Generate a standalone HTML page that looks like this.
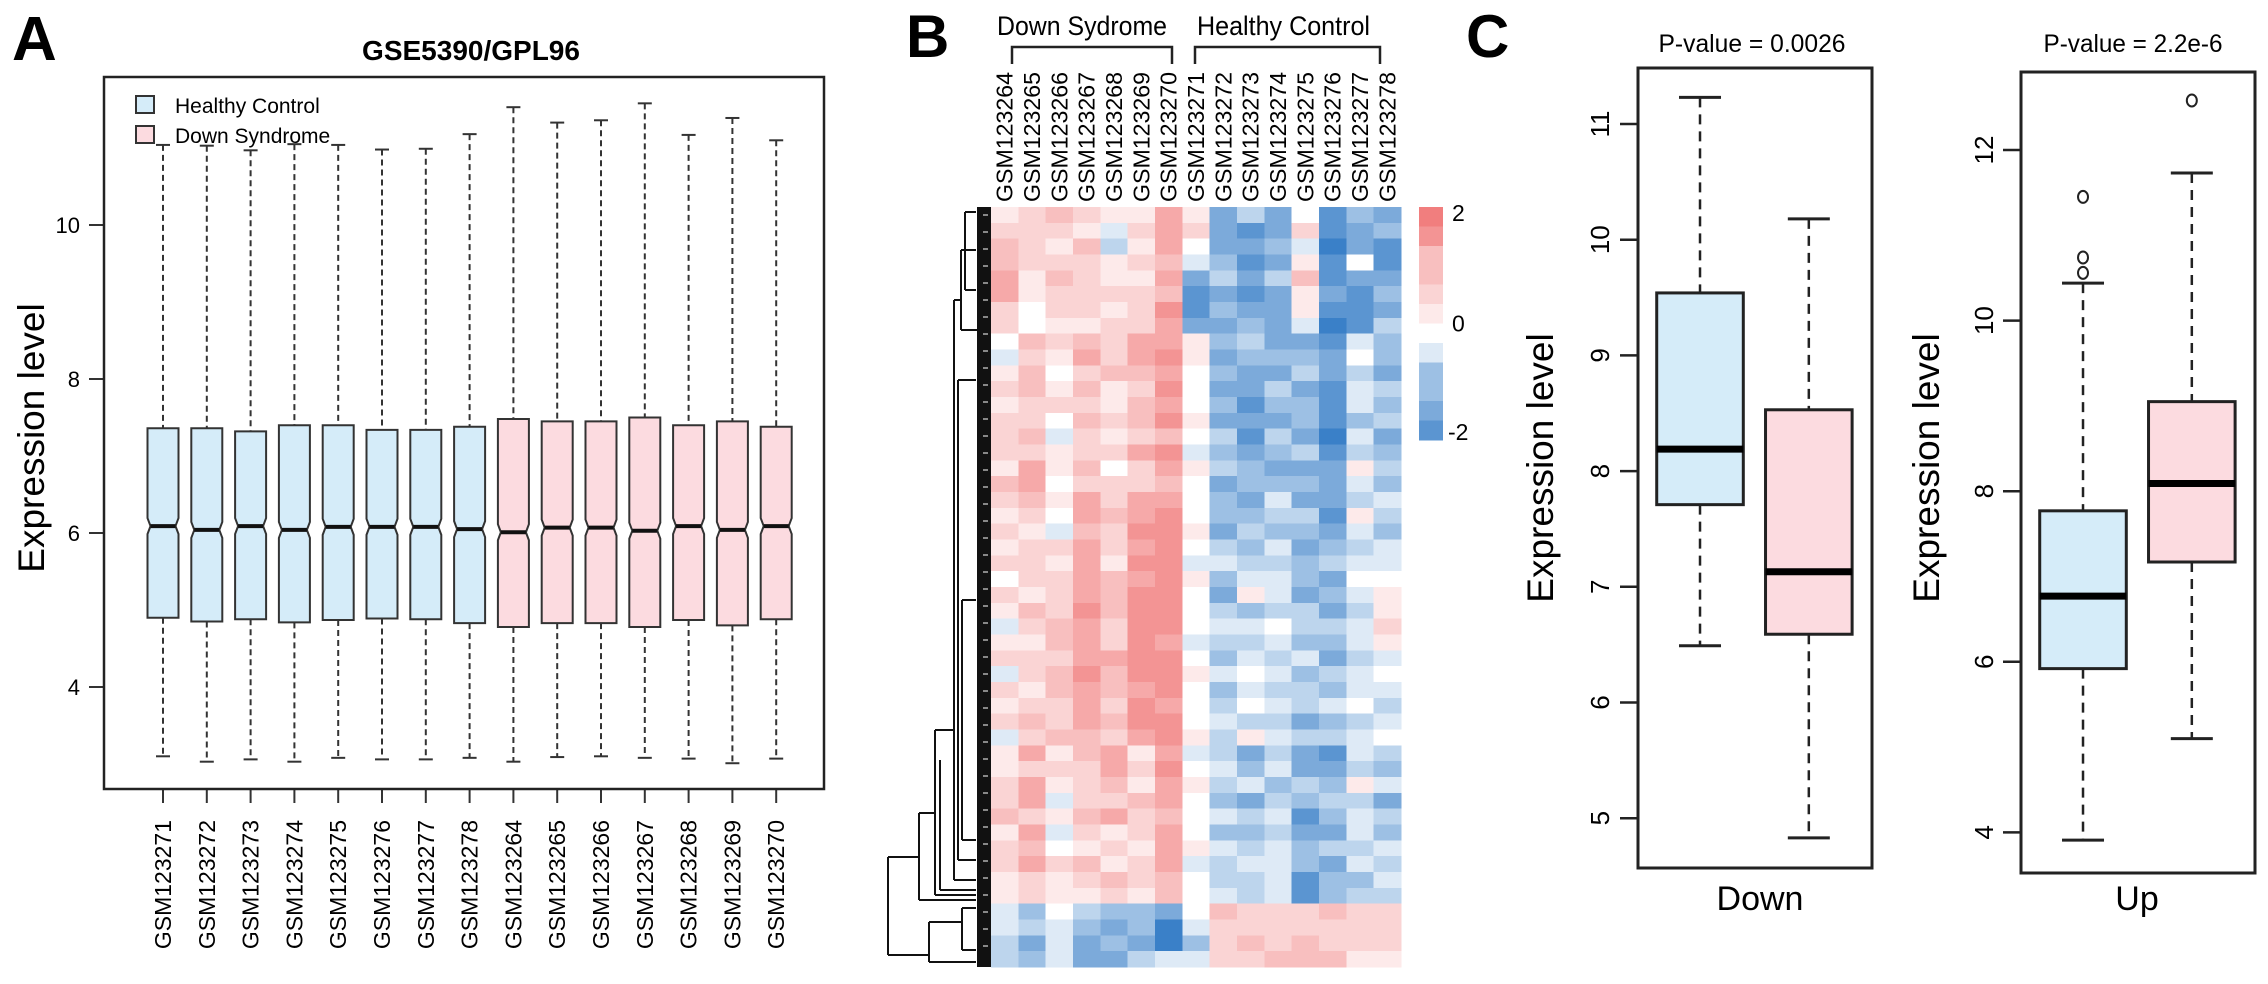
<!DOCTYPE html>
<html><head><meta charset="utf-8"><style>
html,body{margin:0;padding:0;background:#fff;}
svg{display:block;font-family:"Liberation Sans",Arial,sans-serif;}
.nar{font-family:"Liberation Sans Narrow","Liberation Sans",sans-serif;}
</style></head><body>
<svg id="fig" width="2268" height="984" viewBox="0 0 2268 984" xmlns="http://www.w3.org/2000/svg">
<rect width="2268" height="984" fill="#fff"/>
<text x="12" y="60" font-size="62" font-weight="bold">A</text>
<text x="906" y="57" font-size="60" font-weight="bold">B</text>
<text x="1466" y="57" font-size="60" font-weight="bold">C</text>
<g id="pa"></g>
<g id="pb"></g>
<g id="pc"></g>
</svg>
<script>
// ---------- Panel A data ----------
const aSamples = ["GSM123271","GSM123272","GSM123273","GSM123274","GSM123275","GSM123276","GSM123277","GSM123278","GSM123264","GSM123265","GSM123266","GSM123267","GSM123268","GSM123269","GSM123270"];
const aGroup = ["HC","HC","HC","HC","HC","HC","HC","HC","DS","DS","DS","DS","DS","DS","DS"];
const aTop = [11.04,11.03,10.97,11.05,11.04,10.98,10.99,11.18,11.53,11.33,11.36,11.58,11.17,11.39,11.10];
const aQ3 = [7.36,7.36,7.32,7.40,7.40,7.34,7.34,7.38,7.48,7.45,7.45,7.50,7.40,7.45,7.38];
const aMed = [6.09,6.04,6.09,6.04,6.08,6.08,6.08,6.05,6.01,6.07,6.07,6.03,6.09,6.04,6.09];
const aQ1 = [4.90,4.85,4.88,4.84,4.87,4.89,4.88,4.83,4.78,4.83,4.83,4.78,4.87,4.80,4.88];
const aBot = [3.10,3.03,3.06,3.03,3.08,3.06,3.06,3.08,3.03,3.09,3.10,3.08,3.07,3.01,3.07];
const aTicks = [4,6,8,10];

// ---------- Panel B data ----------
const bCols = ["GSM123264","GSM123265","GSM123266","GSM123267","GSM123268","GSM123269","GSM123270","GSM123271","GSM123272","GSM123273","GSM123274","GSM123275","GSM123276","GSM123277","GSM123278"];
const bRows = [
[0.4,0.5,0.9,0.7,0.2,0.4,1.2,0.2,-1.3,-0.8,-1.2,0.1,-1.8,-0.9,-1.4],
[0.6,0.8,0.5,0.3,-0.3,0.6,1.4,0.5,-1.2,-1.6,-1.4,0.6,-1.7,-1.3,-1.1],
[0.9,0.7,0.4,0.9,-0.6,0.2,1.3,0.0,-1.4,-1.5,-0.9,-0.3,-1.9,-1.5,-1.6],
[1.1,0.5,0.8,0.6,0.3,0.7,1.0,-0.4,-1.0,-1.8,-1.3,0.2,-1.6,0.0,-1.8],
[1.3,0.2,1.0,0.5,0.2,0.4,1.3,-1.2,-0.6,-1.4,-0.7,1.1,-1.8,-1.4,-1.3],
[1.4,0.3,0.7,0.8,0.5,0.6,1.1,-1.6,-1.3,-1.6,-1.2,0.4,-1.5,-1.7,-1.0],
[0.7,-0.1,0.5,0.6,0.4,0.8,1.5,-1.8,-1.1,-1.2,-1.5,0.3,-1.6,-1.8,-1.2],
[0.5,0.1,0.3,0.4,0.6,0.5,1.2,-1.5,-1.4,-0.9,-1.3,-0.2,-1.9,-1.6,-0.8],
[0.1,0.9,0.6,1.0,0.7,1.2,1.3,0.2,-1.1,-0.6,-1.4,-1.2,-1.6,-0.5,-0.9],
[-0.2,0.7,0.3,1.2,0.5,1.3,1.6,0.4,-1.3,-1.0,-1.0,-1.1,-1.3,0.1,-1.0],
[0.4,0.9,0.0,0.8,0.9,1.1,1.4,0.1,-0.9,-1.5,-1.2,-0.6,-1.5,-0.7,-1.2],
[0.6,1.0,0.2,0.9,0.4,0.8,1.5,-0.1,-1.2,-1.3,-0.8,-1.4,-1.7,-0.4,-0.8],
[0.3,0.6,0.5,0.7,0.2,1.0,1.2,0.0,-1.0,-1.6,-1.1,-1.0,-1.8,-0.2,-1.1],
[0.8,0.7,0.1,1.1,0.6,0.9,1.5,0.3,-1.4,-1.2,-1.3,-0.9,-1.6,-0.9,-0.7],
[0.5,1.1,-0.3,0.8,0.3,0.7,1.1,0.0,-0.8,-1.7,-0.6,-1.2,-1.9,-0.3,-1.3],
[0.7,0.8,0.2,0.6,0.8,1.2,1.6,-0.2,-1.1,-1.4,-1.0,-0.7,-1.7,-0.6,-0.9],
[0.4,1.3,0.4,0.9,0.1,0.6,1.3,0.2,-0.7,-1.1,-1.4,-1.3,-1.5,0.3,-0.6],
[0.9,1.2,0.0,0.7,0.5,0.8,1.1,0.1,-1.2,-0.9,-0.9,-1.0,-1.4,-0.5,-1.0],
[0.6,0.9,0.3,1.2,0.7,1.3,1.4,-0.1,-1.0,-1.3,-0.5,-1.5,-1.2,-0.8,-0.4],
[0.3,0.6,0.1,1.3,0.9,1.4,1.6,0.0,-0.9,-1.1,-0.8,-0.8,-1.6,0.2,-0.7],
[0.8,0.4,-0.4,1.0,0.6,1.5,1.5,0.3,-1.2,-0.7,-1.1,-1.1,-1.3,-0.3,-0.9],
[0.2,0.7,0.5,1.4,0.8,1.3,1.6,0.1,-0.8,-1.0,-0.3,-1.2,-1.1,-0.6,-0.2],
[0.5,0.5,0.2,1.3,0.4,1.5,1.5,-0.2,-0.5,-0.8,-0.7,-0.9,-0.8,-0.3,-0.5],
[-0.1,0.8,0.7,1.4,1.0,1.4,1.6,0.2,-1.0,-0.4,-0.5,-1.0,-1.2,0.0,-0.1],
[0.6,0.4,0.8,1.2,0.9,1.5,1.5,0.0,-1.2,0.2,-0.4,-1.3,-0.9,-0.4,0.3],
[0.3,0.9,0.6,1.5,1.1,1.6,1.6,-0.1,-0.6,-0.9,-0.6,-0.6,-1.3,-0.8,0.4],
[-0.4,0.6,0.9,1.3,0.7,1.5,1.5,0.1,-0.4,-0.3,0.1,-0.8,-0.6,-0.5,0.5],
[0.4,0.2,1.0,1.4,0.8,1.6,1.4,-0.2,-0.8,-0.6,-0.5,-1.0,-1.1,-0.2,0.2],
[0.7,0.5,0.7,1.2,1.2,1.5,1.6,0.0,-1.1,-0.4,-0.7,-0.5,-1.4,-0.6,-0.3],
[-0.3,0.8,1.1,1.5,0.9,1.6,1.5,0.2,-0.5,-0.1,-0.4,-0.9,-0.7,-0.3,0.0],
[0.5,0.3,0.9,1.3,1.0,1.4,1.6,-0.1,-0.9,-0.5,-0.8,-0.6,-1.0,-0.5,-0.4],
[0.2,0.6,0.8,1.4,0.7,1.6,1.4,0.1,-0.7,0.1,-0.3,-0.7,-0.5,-0.1,-0.6],
[0.6,0.9,0.5,1.2,1.1,1.5,1.5,0.0,-0.4,-0.6,-0.6,-1.2,-0.9,-0.7,-0.3],
[-0.5,0.5,1.0,1.1,0.8,1.4,1.6,0.2,-0.8,0.3,-0.5,-0.8,-0.6,-0.4,0.1],
[0.4,1.2,0.4,0.9,1.3,0.3,1.3,-0.2,-0.6,-1.3,-0.7,-1.5,-1.6,-0.3,-0.8],
[0.3,0.7,0.7,0.6,1.4,0.8,1.5,0.0,-0.3,-1.0,-0.4,-1.3,-1.5,-0.6,-1.1],
[0.8,1.3,0.2,0.8,0.9,0.4,1.2,0.3,-0.7,-0.5,-0.9,-0.8,-0.9,0.2,-0.5],
[0.5,1.4,-0.2,0.5,0.6,1.0,1.3,0.1,-0.9,-1.4,-0.6,-1.1,-0.7,-0.8,-1.2],
[0.9,0.6,0.3,1.0,1.2,0.5,1.1,-0.1,-0.5,-0.8,-0.3,-1.7,-1.0,-0.5,-0.6],
[0.2,1.3,-0.3,0.7,0.4,0.8,1.4,0.0,-1.0,-1.1,-0.6,-1.4,-1.2,-0.4,-0.9],
[0.6,0.9,0.1,0.3,0.8,0.2,1.2,0.2,-0.4,-0.7,-0.2,-0.9,-0.8,-0.7,-0.5],
[0.7,1.4,0.5,0.9,0.3,0.7,1.3,-0.2,-0.8,-0.5,-0.5,-1.0,-1.2,-0.3,-0.7],
[0.4,0.8,0.2,0.6,1.0,0.6,1.0,0.1,-0.6,-0.8,-0.4,-1.6,-0.9,-0.9,-0.4],
[0.3,0.5,0.4,0.4,0.7,0.3,0.9,0.0,-0.5,-0.6,-0.3,-1.8,-1.1,-0.6,-0.8],
[-0.3,-0.9,0.0,-0.8,-1.0,-0.9,-1.5,0.1,0.9,0.7,0.8,0.8,1.0,0.6,0.8],
[-0.4,-0.8,-0.3,-1.0,-1.2,-0.9,-1.9,-0.2,0.7,0.8,0.6,0.7,0.6,0.5,0.7],
[-0.6,-1.2,-0.2,-1.2,-1.1,-1.3,-1.9,-0.9,0.6,0.9,0.8,0.9,0.7,0.6,0.5],
[-0.8,-1.0,-0.5,-1.3,-1.3,-0.7,-0.4,-0.3,0.5,0.8,0.9,1.0,1.0,0.4,0.3]
];
const bKeyTicks = [2,0,-2];

// ---------- Panel C data ----------
const cDownTitle = "P-value = 0.0026";
const cUpTitle = "P-value = 2.2e-6";
const cDownStats = [[6.49,7.71,8.19,9.54,11.23],[4.83,6.59,7.13,8.53,10.18]];
const cUpStats = [[3.91,5.92,6.77,7.77,10.44],[5.10,7.17,8.09,9.05,11.73]];
const cUpOutliers = [[11.45,10.74,10.56],[12.58]];
const cDownTicks = [5,6,7,8,9,10,11];
const cUpTicks = [4,6,8,10,12];

const NS="http://www.w3.org/2000/svg";
function mk(parent,tag,attrs,text){const e=document.createElementNS(NS,tag);for(const k in attrs)e.setAttribute(k,attrs[k]);if(text!==undefined)e.textContent=text;parent.appendChild(e);return e;}
const BLUE="#d5ecf9", PINK="#fcdbe0";

// ===== Panel A =====
(function(){
  const g=document.getElementById('pa');
  const L=104,R=824,T=77,B=789;
  const y=v=>225+(10-v)*77;
  const x=i=>163+i*43.8;
  const t=mk(g,'text',{x:471,y:60,'font-size':28,'font-weight':'bold','text-anchor':'middle'},"GSE5390/GPL96");
  
  
  const yl=mk(g,'text',{transform:'translate(44,438) rotate(-90)','font-size':37,'text-anchor':'middle'},"Expression level");
  
  
  aTicks.forEach(v=>{
    const tl=mk(g,'line',{x1:89,x2:L,y1:y(v),y2:y(v),stroke:'#333','stroke-width':2});
    
    
    const tt=mk(g,'text',{x:80,y:y(v)+8,'font-size':22,'text-anchor':'end'},String(v));
    
    
  });
  aSamples.forEach((s,i)=>{
    const cx=x(i),w=15.5,n=8,ni=3;
    const gg=mk(g,'g',{});
    
    
    mk(gg,'line',{x1:cx,x2:cx,y1:y(aTop[i]),y2:y(aQ3[i]),stroke:'#333','stroke-width':2,'stroke-dasharray':'6,4'});
    mk(gg,'line',{x1:cx,x2:cx,y1:y(aQ1[i]),y2:y(aBot[i]),stroke:'#333','stroke-width':2,'stroke-dasharray':'6,4'});
    mk(gg,'line',{x1:cx-7,x2:cx+7,y1:y(aTop[i]),y2:y(aTop[i]),stroke:'#333','stroke-width':2});
    mk(gg,'line',{x1:cx-7,x2:cx+7,y1:y(aBot[i]),y2:y(aBot[i]),stroke:'#333','stroke-width':2});
    const m=y(aMed[i]);
    const pts=[[cx-w,y(aQ3[i])],[cx+w,y(aQ3[i])],[cx+w,m-n],[cx+w-ni,m],[cx+w,m+n],[cx+w,y(aQ1[i])],[cx-w,y(aQ1[i])],[cx-w,m+n],[cx-w+ni,m],[cx-w,m-n]];
    mk(gg,'polygon',{points:pts.map(p=>p.join(',')).join(' '),fill:aGroup[i]==='HC'?BLUE:PINK,stroke:'#333','stroke-width':2});
    mk(gg,'line',{x1:cx-w+ni,x2:cx+w-ni,y1:m,y2:m,stroke:'#111','stroke-width':4});
    mk(gg,'line',{x1:cx,x2:cx,y1:B,y2:B+14,stroke:'#333','stroke-width':2});
    const lt=mk(g,'text',{transform:`translate(${cx+8},820) rotate(-90)`,'font-size':23,'text-anchor':'end'},s);
    
    
  });
  const fr=mk(g,'rect',{x:L,y:T,width:R-L,height:B-T,fill:'none',stroke:'#222','stroke-width':2.5});
  
  
  [["Healthy Control",BLUE,105],["Down Syndrome",PINK,135]].forEach(([lab,c,yy])=>{
    const lg=mk(g,'g',{});
    
    
    mk(lg,'rect',{x:136,y:yy-9,width:18,height:17,fill:c,stroke:'#333','stroke-width':2});
    mk(lg,'text',{x:175,y:yy+8,'font-size':21},lab);
  });
})();

// ===== Panel B =====
function hcol(v){
  v=Math.max(-2,Math.min(2,v));
  const q=Math.round(v*3)/3, f=Math.abs(q)/2;
  const end=q>=0?[241,126,126]:[58,128,200];
  return 'rgb('+end.map(c=>Math.round(255+(c-255)*f)).join(',')+')';
}
(function(){
  const g=document.getElementById('pb');
  const X0=991,X1=1401,Y0=207,Y1=967;
  const cw=(X1-X0)/bCols.length, rh=(Y1-Y0)/bRows.length;
  const cells=mk(g,'g',{'shape-rendering':'crispEdges'});
  
  
  bRows.forEach((row,r)=>row.forEach((v,c)=>{
    const rc=mk(cells,'rect',{x:X0+c*cw,y:Y0+r*rh,width:cw+0.5,height:rh+0.5,fill:hcol(v)});
    
    
  }));
  bCols.forEach((s,c)=>{
    const t=mk(g,'text',{transform:`translate(${X0+c*cw+cw/2+8},202) rotate(-90)`,'font-size':23,class:'nar',textLength:130,lengthAdjust:'spacingAndGlyphs'},s);
    
    
  });
  const gl=mk(g,'text',{x:997,y:35,'font-size':27,class:'nar',textLength:170,lengthAdjust:'spacingAndGlyphs'},"Down Sydrome");
  
  
  const gl2=mk(g,'text',{x:1197,y:35,'font-size':27,class:'nar',textLength:173,lengthAdjust:'spacingAndGlyphs'},"Healthy Control");
  
  
  const br1=mk(g,'polyline',{points:'1012,64 1012,47 1172,47 1172,64',fill:'none',stroke:'#222','stroke-width':2.5});
  
  
  const br2=mk(g,'polyline',{points:'1195,64 1195,47 1380,47 1380,64',fill:'none',stroke:'#222','stroke-width':2.5});
  
  
  // dendrogram (decorative)
  const d=mk(g,'g',{stroke:'#111','stroke-width':2,fill:'none'});
  
  
  mk(d,'rect',{x:977,y:207,width:14,height:760,fill:'#111',stroke:'none'});
  const segs=[[888,857,888,955],[888,857,919,857],[888,955,929,955],[919,813,919,900],[919,813,935,813],[919,900,976,900],
   [935,730,935,895],[935,730,954,730],[935,895,976,895],[954,300,954,880],[954,300,961,300],[954,880,976,880],
   [961,250,961,330],[961,250,976,250],[961,330,991,330],[965,212,965,290],[965,212,976,212],[965,290,976,290],
   [958,380,958,860],[958,380,976,380],[958,860,976,860],[962,600,962,840],[962,600,976,600],[962,840,976,840],
   [929,922,929,962],[929,922,962,922],[929,962,976,962],[962,908,962,950],[962,908,976,908],[962,950,976,950],
   [940,760,940,890],[940,890,976,890]];
  segs.forEach(s=>mk(d,'line',{x1:s[0],y1:s[1],x2:s[2],y2:s[3]}));
  for(let yy=215;yy<960;yy+=17){mk(d,'line',{x1:983,x2:988,y1:yy,y2:yy,stroke:'#fff','stroke-width':1});}
  // color key
  const key=mk(g,'g',{'shape-rendering':'crispEdges'});
  
  
  const KY0=207,KY1=440,nb=12;
  for(let i=0;i<nb;i++){
    const v=2-(i+0.5)*4/nb;
    mk(key,'rect',{x:1419,y:KY0+i*(KY1-KY0)/nb,width:24,height:(KY1-KY0)/nb+0.5,fill:hcol(v)});
  }
  bKeyTicks.forEach(v=>{
    const t=mk(g,'text',{x:v<0?1448:1452,y:KY0+(2-v)/4*(KY1-KY0)+(v===2?14:v===0?8:0),'font-size':23,class:'nar'},String(v));
    
    
  });
})();

// ===== Panel C =====
function cPlot(g,name,L,R,T,B,yv,ticks,stats,outs,title,titleX,titleW,xlab,xlabX,ylabX,tickLabX){
  const pg=mk(g,'g',{});
  
  
  const tt=mk(pg,'text',{x:titleX,y:52,'font-size':25,class:'nar','text-anchor':'middle',textLength:titleW,lengthAdjust:'spacingAndGlyphs'},title);
  
  
  const yl=mk(pg,'text',{transform:`translate(${ylabX},468) rotate(-90)`,'font-size':37,'text-anchor':'middle'},"Expression level");
  
  
  const xl=mk(pg,'text',{x:xlabX,y:910,'font-size':34,'text-anchor':'middle'},xlab);
  
  
  ticks.forEach(v=>{
    const tk=mk(pg,'line',{x1:L-18,x2:L,y1:yv(v),y2:yv(v),stroke:'#222','stroke-width':2.5});
    
    
    const tl=mk(pg,'text',{transform:`translate(${tickLabX},${yv(v)}) rotate(-90)`,'font-size':26,'text-anchor':'middle'},String(v));
    
    
  });
  const w=R-L, centers=[L+w*0.265,L+w*0.73], hw=w*0.185;
  stats.forEach((s,i)=>{
    const cx=centers[i];
    const bg=mk(pg,'g',{});
    
    
    mk(bg,'line',{x1:cx,x2:cx,y1:yv(s[4]),y2:yv(s[3]),stroke:'#222','stroke-width':2.5,'stroke-dasharray':'10,7'});
    mk(bg,'line',{x1:cx,x2:cx,y1:yv(s[1]),y2:yv(s[0]),stroke:'#222','stroke-width':2.5,'stroke-dasharray':'10,7'});
    mk(bg,'line',{x1:cx-21,x2:cx+21,y1:yv(s[4]),y2:yv(s[4]),stroke:'#222','stroke-width':3});
    mk(bg,'line',{x1:cx-21,x2:cx+21,y1:yv(s[0]),y2:yv(s[0]),stroke:'#222','stroke-width':3});
    mk(bg,'rect',{x:cx-hw,y:yv(s[3]),width:2*hw,height:yv(s[1])-yv(s[3]),fill:i===0?BLUE:PINK,stroke:'#222','stroke-width':3});
    mk(bg,'line',{x1:cx-hw,x2:cx+hw,y1:yv(s[2]),y2:yv(s[2]),stroke:'#000','stroke-width':7});
    (outs[i]||[]).forEach(o=>{
      const c=mk(bg,'ellipse',{cx:cx,cy:yv(o),rx:5,ry:6,fill:'none',stroke:'#222','stroke-width':2});
      
      
    });
  });
  const fr=mk(pg,'rect',{x:L,y:T,width:R-L,height:B-T,fill:'none',stroke:'#222','stroke-width':3});
  
  
}
(function(){
  const g=document.getElementById('pc');
  cPlot(g,'down-genes-plot',1638,1872,68,868,v=>124+(11-v)*115.7,cDownTicks,cDownStats,[[],[]],cDownTitle,1752,187,"Down",1760,1553,1609);
  cPlot(g,'up-genes-plot',2021,2255,72,873,v=>150+(12-v)*85.3,cUpTicks,cUpStats,cUpOutliers,cUpTitle,2133,179,"Up",2137,1939,1993);
})();
</script>
</body></html>
